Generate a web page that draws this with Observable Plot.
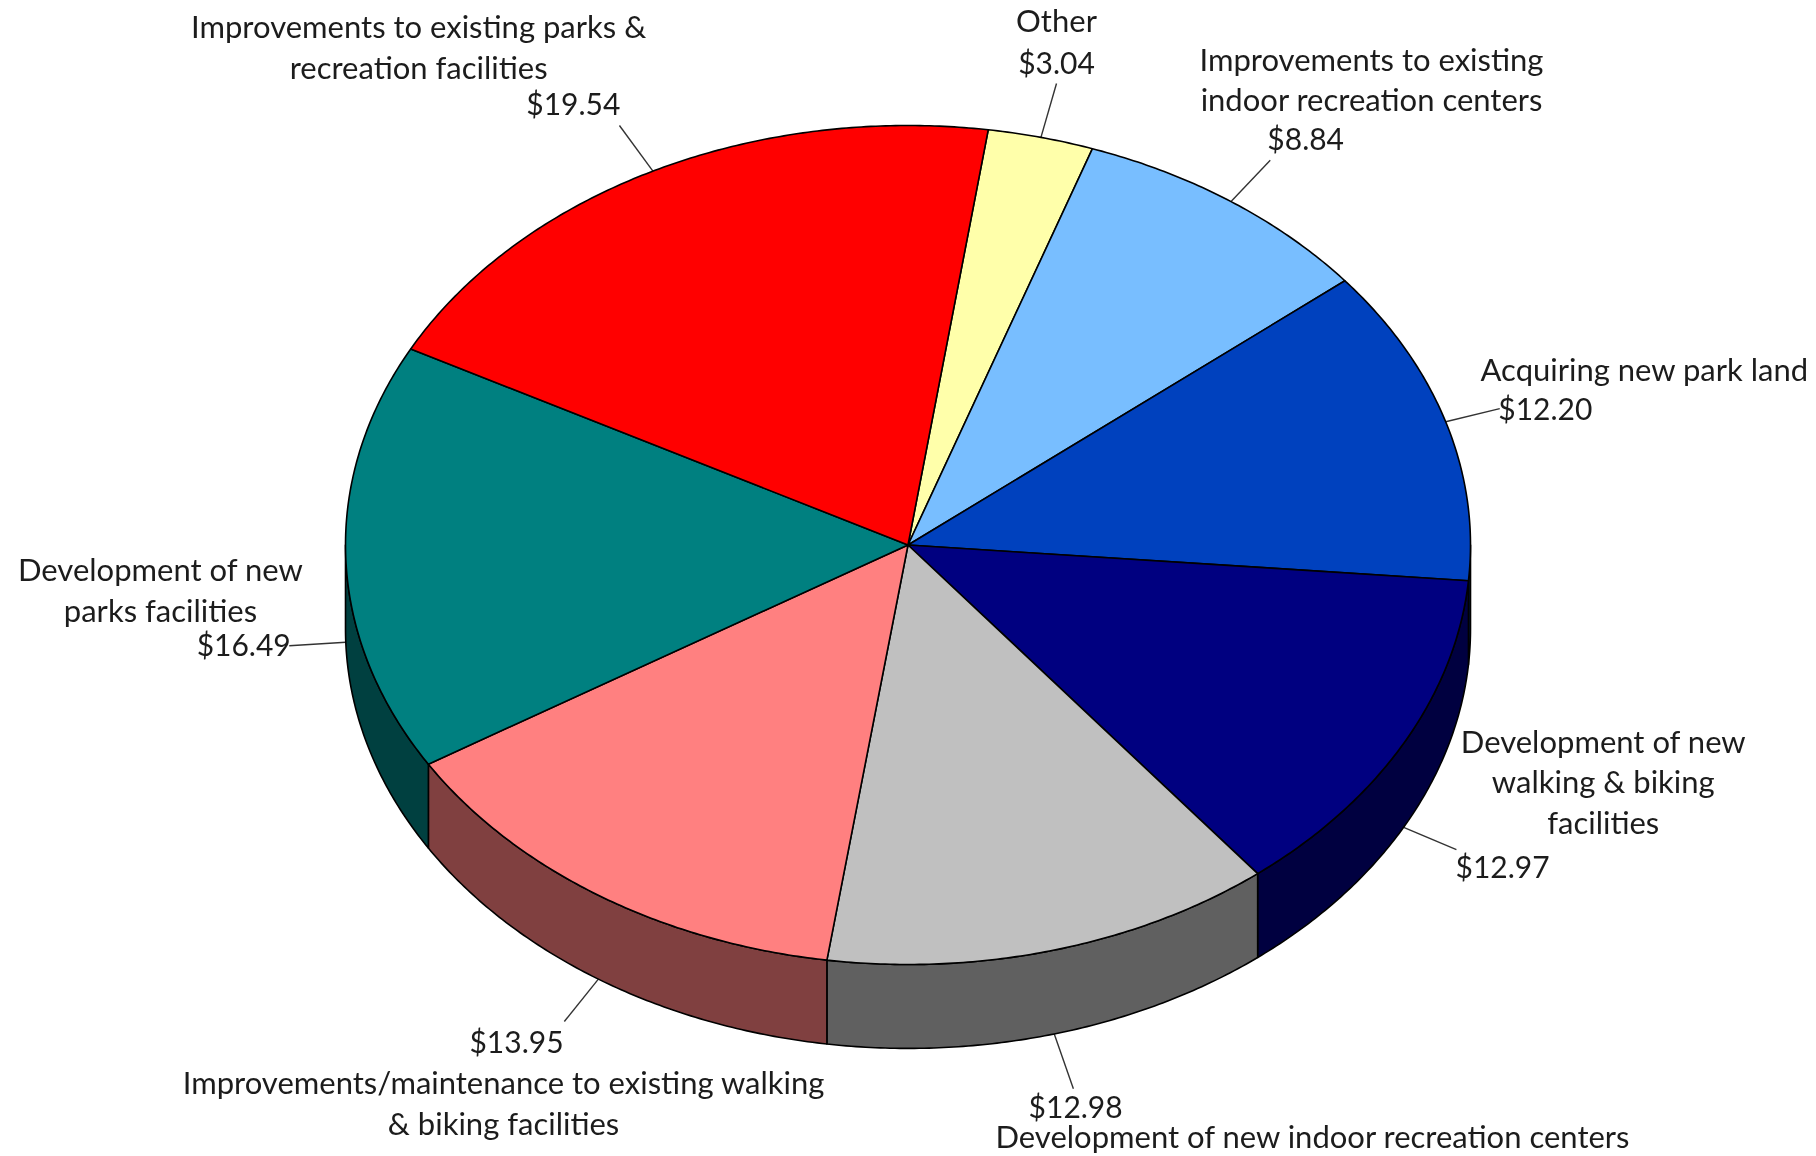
<!DOCTYPE html>
<html>
<head>
<meta charset="utf-8">
<script src="https://cdn.jsdelivr.net/npm/d3@7"></script>
<script src="https://cdn.jsdelivr.net/npm/@observablehq/plot@0.6"></script>
<style>
html,body{margin:0;padding:0;background:#fff}
#chart svg{display:block;filter:blur(0.7px)}
</style>
</head>
<body>
<div id="chart"></div>
<script>
const categories = [
  "Other",
  "Improvements to existing\nindoor recreation centers",
  "Acquiring new park land",
  "Development of new\nwalking & biking\nfacilities",
  "Development of new indoor recreation centers",
  "Improvements/maintenance to existing walking\n& biking facilities",
  "Development of new\nparks facilities",
  "Improvements to existing parks &\nrecreation facilities"
];
const values = [3.04, 8.84, 12.20, 12.97, 12.98, 13.95, 16.49, 19.54];
const topColors = ["#FFFFAA", "#78BEFF", "#0041BE", "#000080", "#C0C0C0", "#FF8080", "#008080", "#FF0000"];
const sideColors = ["#808055", "#3C5F80", "#00205F", "#000040", "#606060", "#804040", "#004040", "#800000"];

// Placement of the labels, in the pie's own units (1 = pie radius)
const nameX = [0.264, 0.824, 1.309, 1.236, 0.719, -0.719, -1.329, -0.870];
const nameY = [1.254, 1.113, 0.422, -0.561, -1.407, -1.327, -0.104, 1.191];
const valueX = [0.264, 0.707, 1.133, 1.057, 0.298, -0.696, -1.181, -0.595];
const valueY = [1.145, 0.964, 0.322, -0.772, -1.344, -1.189, -0.241, 1.047];
const leaderEndX = [0.264, 0.644, 1.052, 0.975, 0.294, -0.611, -1.100, -0.513];
const leaderEndY = [1.100, 0.917, 0.325, -0.726, -1.296, -1.136, -0.240, 1.000];

const startAngle = 8.2;    // degrees clockwise from 12 o'clock
const wallDepth = 0.2;     // thickness of the pie, in the same units
const nameFontSize = 31;
const valueFontSize = 30;
const total = d3.sum(values);

let cursor = startAngle;
const slices = values.map((v, i) => {
  const a0 = cursor, a1 = cursor + v / total * 360;
  cursor = a1;
  return {i, a0, a1, mid: (a0 + a1) / 2};
});

const rim = (t, drop = 0) => {
  const r = t * Math.PI / 180;
  return {x: Math.sin(r), y: Math.cos(r) - drop};
};
const arc = (a0, a1) => {
  const n = Math.max(2, Math.ceil((a1 - a0) * 2));
  return d3.range(n + 1).map(k => a0 + (a1 - a0) * k / n);
};

const topFaces = slices.flatMap(s => {
  const pts = [{x: 0, y: 0}, ...arc(s.a0, s.a1).map(t => rim(t)), {x: 0, y: 0}];
  return pts.map(p => ({...p, key: s.i, fill: topColors[s.i]}));
});

const walls = slices.flatMap(s => {
  const a0 = Math.max(s.a0, 90), a1 = Math.min(s.a1, 270);
  if (a1 <= a0) return [];
  const ts = arc(a0, a1);
  const pts = [...ts.map(t => rim(t)), ...ts.slice().reverse().map(t => rim(t, wallDepth))];
  pts.push(pts[0]);
  return pts.map(p => ({...p, key: s.i, fill: sideColors[s.i]}));
});

const leaders = slices.map(s => {
  const frontal = s.mid > 90 && s.mid < 270;
  const p = rim(s.mid, frontal ? wallDepth : 0);
  return {x1: p.x, y1: p.y, x2: leaderEndX[s.i], y2: leaderEndY[s.i]};
});

const nameRows = categories.map((name, i) => ({name, x: nameX[i], y: nameY[i]}));
const valueRows = values.map((v, i) => ({label: "$" + v.toFixed(2), x: valueX[i], y: valueY[i]}));

const textStyle = {
  fontFamily: "Lato, sans-serif",
  fill: "#1c1c1c",
  textAnchor: "middle",
  lineAnchor: "middle"
};

const chart = Plot.plot({
  width: 1816,
  height: 1156,
  margin: 0,
  axis: null,
  x: {domain: [-1, 1], range: [345, 1470]},
  y: {domain: [-1, 1], range: [964, 125]},
  color: {type: "identity"},
  marks: [
    Plot.link(leaders, {x1: "x1", y1: "y1", x2: "x2", y2: "y2", stroke: "#333", strokeWidth: 1.4}),
    Plot.line(walls, {x: "x", y: "y", z: "key", fill: "fill", stroke: "#000", strokeWidth: 1.6, curve: "linear"}),
    Plot.line(topFaces, {x: "x", y: "y", z: "key", fill: "fill", stroke: "#000", strokeWidth: 1.6, curve: "linear"}),
    Plot.text(nameRows, {x: "x", y: "y", text: "name", fontSize: nameFontSize, lineHeight: 1.31, ...textStyle}),
    Plot.text(valueRows, {x: "x", y: "y", text: "label", fontSize: valueFontSize, ...textStyle})
  ]
});
document.getElementById("chart").append(chart);
</script>
</body>
</html>
